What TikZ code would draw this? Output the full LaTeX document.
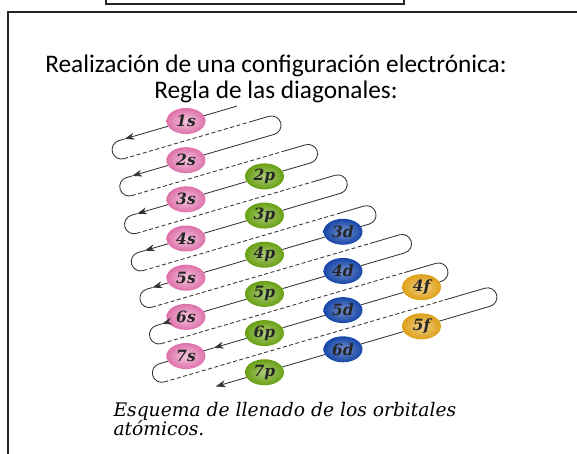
\documentclass[tikz,border=0pt]{standalone}
\usepackage{fontspec}
\usepackage{xcolor}
\usepackage{tikz}
\usetikzlibrary{shapes.geometric,arrows.meta}
\newfontfamily\headfont{Carlito}
\newfontfamily\capfont{DejaVu Serif}
\definecolor{spink}{RGB}{222,112,170}
\definecolor{pgreen}{RGB}{104,160,18}
\definecolor{dblue}{RGB}{22,70,168}
\definecolor{fgold}{RGB}{222,160,22}

\begin{document}
\begin{tikzpicture}[
  x=1pt, y=1pt,
  wire/.style={line width=0.85pt, draw=black!80},
  arr/.style={wire, -{Stealth[length=10pt, width=7pt]}},
  dwire/.style={wire, dash pattern=on 4pt off 2.5pt},
  frame/.style={line width=1.6pt, draw=black!85},
  orb/.style={ellipse, minimum width=39pt, minimum height=26pt, inner sep=0pt, text=black!85,
    font=\capfont\bfseries\itshape\fontsize{15.5}{15.5}\selectfont},
  sorb/.style={orb, inner color=spink!40!white, outer color=spink},
  porb/.style={orb, inner color=pgreen!55!white, outer color=pgreen},
  dorb/.style={orb, inner color=dblue!60!white, outer color=dblue},
  forb/.style={orb, inner color=fgold!50!white, outer color=fgold},
  title/.style={font=\headfont\fontsize{25.3}{25.3}\selectfont, anchor=base},
  caption/.style={font=\capfont\itshape\fontsize{18.7}{18.7}\selectfont, anchor=base west},
]
\useasboundingbox (0,0) rectangle (577,454);
\draw[frame] (106,456) -- (106,450) -- (404,450) -- (404,456);
\draw[frame] (579,442) -- (8,442) -- (8,-2);

\node[title] (h1) at (276,381) {Realización de una configuración electrónica:};
\node[title] (h2) at (276,355) {Regla de las diagonales:};
\node[caption] (c1) at (110,37) {Esquema de llenado de los orbitales};
\node[caption] (c2) at (110,18) {atómicos.};

\begin{scope}[shift={(186,333)}, rotate=16.3]
\node[sorb] (s1) at (0,0) {1s};
\node[sorb] (s2) at (-11,-37.6) {2s};
\node[sorb] (s3) at (-22,-75.2) {3s};
\node[sorb] (s4) at (-33,-112.8) {4s};
\node[sorb] (s5) at (-44,-150.4) {5s};
\node[sorb] (s6) at (-55,-188) {6s};
\node[sorb] (s7) at (-66,-225.6) {7s};
\node[porb] (p2) at (59.8,-75.2) {2p};
\node[porb] (p3) at (48.8,-112.8) {3p};
\node[porb] (p4) at (37.8,-150.4) {4p};
\node[porb] (p5) at (26.8,-188) {5p};
\node[porb] (p6) at (15.8,-225.6) {6p};
\node[porb] (p7) at (4.8,-263.2) {7p};
\node[dorb] (d3) at (119.6,-150.4) {3d};
\node[dorb] (d4) at (108.6,-188) {4d};
\node[dorb] (d5) at (97.6,-225.6) {5d};
\node[dorb] (d6) at (86.6,-263.2) {6d};
\node[forb] (f4) at (179.4,-225.6) {4f};
\node[forb] (f5) at (168.4,-263.2) {5f};

\coordinate (t1) at (53,0);
\coordinate (a1) at (-64,0);
\coordinate (l1) at (-70,0);
\coordinate (b1) at (-70,-18.8);
\coordinate (q1) at (61,-18.8);
\coordinate (r1) at (81,-18.8);
\coordinate (a2) at (-67,-37.6);
\coordinate (l2) at (-73,-37.6);
\coordinate (b2) at (-73,-56.4);
\coordinate (q2) at (86,-56.4);
\coordinate (r2) at (108,-56.4);
\coordinate (a3) at (-73,-75.2);
\coordinate (l3) at (-79,-75.2);
\coordinate (b3) at (-79,-94);
\coordinate (q3) at (105,-94);
\coordinate (r3) at (128,-94);
\coordinate (a4) at (-76,-112.8);
\coordinate (l4) at (-83,-112.8);
\coordinate (b4) at (-83,-131.6);
\coordinate (q4) at (122,-131.6);
\coordinate (r4) at (147,-131.6);
\coordinate (a5) at (-79,-150.4);
\coordinate (l5) at (-85,-150.4);
\coordinate (b5) at (-85,-169.2);
\coordinate (q5) at (142,-169.2);
\coordinate (r5) at (173,-169.2);
\coordinate (a6) at (-80,-188);
\coordinate (l6) at (-86,-188);
\coordinate (b6) at (-86,-206.8);
\coordinate (q6) at (167,-206.8);
\coordinate (r6) at (200,-206.8);
\coordinate (a7) at (-37,-225.6);
\coordinate (l7) at (-94,-225.6);
\coordinate (b7) at (-94,-244.4);
\coordinate (q7) at (198,-244.4);
\coordinate (r7) at (240,-244.4);
\coordinate (a8) at (-46,-263.2);

\draw[arr] (t1) -- (s1) -- (a1);
\draw[wire] (a1) -- (l1) arc[start angle=90, end angle=270, radius=9.4];
\draw[dwire] (b1) -- (q1);
\draw[arr] (q1) -- (r1) arc[start angle=90, end angle=-90, radius=9.4] -- (s2) -- (a2);
\draw[wire] (a2) -- (l2) arc[start angle=90, end angle=270, radius=9.4];
\draw[dwire] (b2) -- (q2);
\draw[arr] (q2) -- (r2) arc[start angle=90, end angle=-90, radius=9.4] -- (p2) -- (s3) -- (a3);
\draw[wire] (a3) -- (l3) arc[start angle=90, end angle=270, radius=9.4];
\draw[dwire] (b3) -- (q3);
\draw[arr] (q3) -- (r3) arc[start angle=90, end angle=-90, radius=9.4] -- (p3) -- (s4) -- (a4);
\draw[wire] (a4) -- (l4) arc[start angle=90, end angle=270, radius=9.4];
\draw[dwire] (b4) -- (q4);
\draw[arr] (q4) -- (r4) arc[start angle=90, end angle=-90, radius=9.4] -- (d3) -- (p4) -- (s5) -- (a5);
\draw[wire] (a5) -- (l5) arc[start angle=90, end angle=270, radius=9.4];
\draw[dwire] (b5) -- (q5);
\draw[arr] (q5) -- (r5) arc[start angle=90, end angle=-90, radius=9.4] -- (d4) -- (p5) -- (s6) -- (a6);
\draw[wire] (a6) -- (l6) arc[start angle=90, end angle=270, radius=9.4];
\draw[dwire] (b6) -- (q6);
\draw[arr] (q6) -- (r6) arc[start angle=90, end angle=-90, radius=9.4] -- (f4) -- (d5) -- (p6) -- (a7);
\draw[wire] (a7) -- (s7) -- (l7) arc[start angle=90, end angle=270, radius=9.4];
\draw[dwire] (b7) -- (q7);
\draw[arr] (q7) -- (r7) arc[start angle=90, end angle=-90, radius=9.4] -- (f5) -- (d6) -- (p7) -- (a8);
\end{scope}
\end{tikzpicture}
\end{document}
